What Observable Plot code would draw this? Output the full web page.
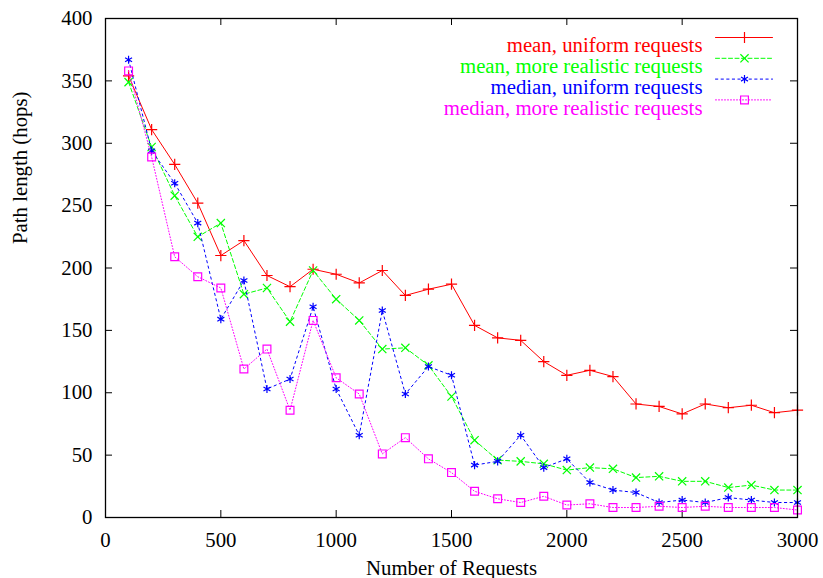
<!DOCTYPE html>
<html><head><meta charset="utf-8">
<script src="https://cdn.jsdelivr.net/npm/d3@7"></script>
<script src="https://cdn.jsdelivr.net/npm/@observablehq/plot@0.6"></script>
<style>body{margin:0;background:#fff}</style>
</head><body><div id="chart"></div>
<script>
const requests = [100,200,300,400,500,600,700,800,900,1000,1100,1200,1300,1400,1500,1600,1700,1800,1900,2000,2100,2200,2300,2400,2500,2600,2700,2800,2900,3000];
const meanUniform     = [354,311,283,252,210,222,194,185,199,195,188,198,178,183,187,154,144,142,125,114,118,113,91,89,83,91,88,90,84,86];
const meanRealistic   = [349,297,258,225,236,179,184,157,198,175,158,135,136,122,97,62,46,45,43,38,40,39,32,33,29,29,24,26,22,22];
const medianUniform   = [367,294,268,236,159,190,103,111,169,103,66,166,99,121,114,42,45,66,40,47,28,22,20,12,14,12,16,14,12,12];
const medianRealistic = [358,289,209,193,184,119,135,86,158,112,99,51,64,47,36,21,15,12,17,10,11,8,8,9,8,9,8,8,8,6];
const seriesNames = ["mean, uniform requests","mean, more realistic requests","median, uniform requests","median, more realistic requests"];
const xTicks = [0,500,1000,1500,2000,2500,3000];
const yTicks = [0,50,100,150,200,250,300,350,400];
const xLabel = "Number of Requests";
const yLabel = "Path length (hops)";

const seriesValues = [meanUniform, meanRealistic, medianUniform, medianRealistic];
const colors = ["#ff0000","#00ff00","#0000ff","#ff00ff"];
const dashes = [null,"4,2.5","2.3,3.3","1,2"];
const symbols = ["plus","times","asterisk","square"];
const radii = [3.7,3.8,3.8,4.4];

const W=823,H=578,mL=105,mR=26,mT=18,mB=61;
const plotW=W-mL-mR, plotH=H-mT-mB, tick=7;
const lineShape = {draw(ctx,l){ctx.moveTo(0,0);ctx.lineTo(0,-l);}};

const marks = [];
marks.push(Plot.ruleX(xTicks,{x:d=>d,insetTop:plotH-tick,stroke:"black"}));
marks.push(Plot.ruleX(xTicks,{x:d=>d,insetBottom:plotH-tick,stroke:"black"}));
marks.push(Plot.ruleY(yTicks,{y:d=>d,insetRight:plotW-tick,stroke:"black"}));
marks.push(Plot.ruleY(yTicks,{y:d=>d,insetLeft:plotW-tick,stroke:"black"}));
marks.push(Plot.axisX({ticks:xTicks,tickSize:0,tickPadding:15,tickFormat:d=>String(d),label:null}));
marks.push(Plot.axisY({ticks:yTicks,tickSize:0,tickPadding:13,tickFormat:d=>String(d),label:null}));

seriesValues.forEach((vals,i)=>{
  const data = requests.map((r,j)=>({x:r,y:vals[j]}));
  marks.push(Plot.line(data,{x:"x",y:"y",stroke:colors[i],strokeWidth:1,strokeDasharray:dashes[i]}));
  marks.push(Plot.dot(data,{x:"x",y:"y",symbol:()=>symbols[i],r:radii[i],stroke:colors[i],fill:"none",strokeWidth:1.2}));
  const dy = 19+20.8*i;
  marks.push(Plot.text([seriesNames[i]],{frameAnchor:"top-right",text:d=>d,textAnchor:"end",dx:-95,dy,fill:colors[i]}));
  marks.push(Plot.vector([0],{frameAnchor:"top-right",dx:-82,dy,length:57,rotate:90,anchor:"start",shape:lineShape,stroke:colors[i],strokeWidth:1,strokeDasharray:dashes[i]}));
  marks.push(Plot.dot([0],{frameAnchor:"top-right",dx:-53,dy,symbol:()=>symbols[i],r:radii[i],stroke:colors[i],fill:"none",strokeWidth:1.2}));
});

marks.push(Plot.frame({stroke:"black",strokeWidth:1.3}));
marks.push(Plot.text([xLabel],{frameAnchor:"bottom",text:d=>d,dy:57,lineAnchor:"bottom",fill:"black"}));
marks.push(Plot.text([yLabel],{frameAnchor:"left",text:d=>d,rotate:-90,dx:-85,dy:-24,fill:"black"}));

const chart = Plot.plot({
  width:W,height:H,marginLeft:mL,marginRight:mR,marginTop:mT,marginBottom:mB,
  x:{domain:[0,3000]},
  y:{domain:[0,400]},
  symbol:{type:"identity"},
  style:{fontFamily:"Liberation Serif, Times New Roman, DejaVu Serif, serif",fontSize:"20.8px",color:"black",background:"white"},
  marks
});
document.getElementById("chart").appendChild(chart);
</script>
</body></html>
